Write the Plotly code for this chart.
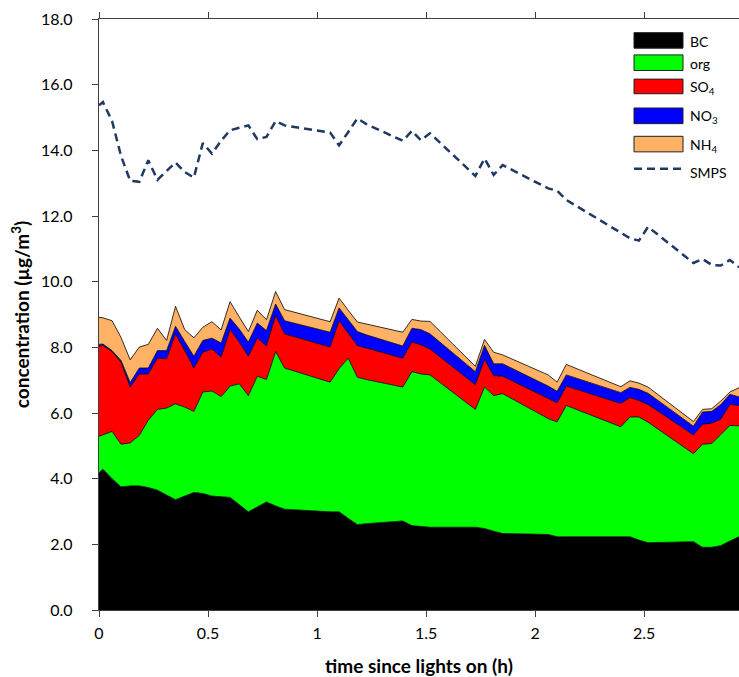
import plotly.graph_objects as go

# ---- data ----
time_h = [0.000, 0.018, 0.060, 0.101, 0.143, 0.185, 0.226, 0.268, 0.310, 0.351, 0.393, 0.435,
          0.476, 0.518, 0.560, 0.601, 0.643, 0.685, 0.726, 0.768, 0.810, 0.851, 1.060, 1.101,
          1.143, 1.185, 1.226, 1.393, 1.435, 1.476, 1.518, 1.726, 1.768, 1.810, 1.851, 2.060,
          2.101, 2.143, 2.393, 2.435, 2.476, 2.518, 2.726, 2.768, 2.810, 2.851, 2.893, 2.935]

bc = [4.18, 4.29, 4.00, 3.75, 3.78, 3.78, 3.73, 3.65, 3.50, 3.36, 3.47, 3.58,
      3.55, 3.47, 3.45, 3.43, 3.21, 2.99, 3.14, 3.29, 3.17, 3.07, 2.99, 2.99,
      2.79, 2.60, 2.63, 2.71, 2.57, 2.54, 2.52, 2.52, 2.48, 2.40, 2.33, 2.30,
      2.23, 2.23, 2.23, 2.23, 2.13, 2.05, 2.08, 1.91, 1.91, 1.96, 2.10, 2.23]

org = [1.11, 1.05, 1.44, 1.30, 1.31, 1.54, 2.05, 2.46, 2.65, 2.92, 2.71, 2.47,
       3.09, 3.20, 3.05, 3.39, 3.68, 3.54, 3.98, 3.73, 4.70, 4.30, 3.95, 4.36,
       4.88, 4.49, 4.39, 4.08, 4.69, 4.65, 4.64, 3.59, 4.31, 4.13, 4.26, 3.53,
       3.50, 4.00, 3.35, 3.65, 3.75, 3.67, 2.68, 3.14, 3.16, 3.38, 3.52, 3.38]

so4 = [2.74, 2.72, 2.43, 2.50, 1.70, 1.87, 1.41, 1.56, 1.50, 2.13, 1.72, 1.32,
       1.21, 1.28, 1.20, 1.72, 1.27, 1.20, 1.16, 1.02, 1.10, 1.04, 1.07, 1.46,
       0.76, 0.96, 0.96, 0.88, 0.90, 0.89, 0.79, 0.75, 0.84, 0.61, 0.53, 0.63,
       0.58, 0.59, 0.71, 0.59, 0.50, 0.54, 0.57, 0.61, 0.62, 0.47, 0.64, 0.62]

no3 = [0.06, 0.04, 0.03, 0.05, 0.14, 0.18, 0.18, 0.23, 0.25, 0.23, 0.28, 0.36,
       0.36, 0.33, 0.43, 0.35, 0.40, 0.43, 0.46, 0.47, 0.35, 0.40, 0.45, 0.39,
       0.41, 0.43, 0.40, 0.37, 0.42, 0.46, 0.46, 0.40, 0.43, 0.36, 0.38, 0.36,
       0.35, 0.34, 0.33, 0.31, 0.34, 0.34, 0.27, 0.37, 0.36, 0.44, 0.31, 0.26]

nh4 = [0.82, 0.80, 0.91, 0.70, 0.69, 0.64, 0.72, 0.68, 0.31, 0.61, 0.36, 0.56,
       0.40, 0.50, 0.40, 0.50, 0.37, 0.32, 0.39, 0.33, 0.38, 0.34, 0.32, 0.30,
       0.29, 0.29, 0.33, 0.42, 0.27, 0.26, 0.38, 0.16, 0.18, 0.35, 0.27, 0.34,
       0.28, 0.32, 0.18, 0.20, 0.19, 0.19, 0.14, 0.08, 0.08, 0.11, 0.07, 0.28]

smps = [15.37, 15.47, 14.89, 13.83, 13.07, 13.04, 13.70, 13.10, 13.37, 13.63, 13.34, 13.17,
        14.22, 13.90, 14.29, 14.61, 14.69, 14.76, 14.34, 14.41, 14.89, 14.76, 14.54, 14.15,
        14.56, 14.97, 14.80, 14.29, 14.59, 14.31, 14.52, 13.22, 13.75, 13.25, 13.55, 12.84,
        12.77, 12.49, 11.49, 11.32, 11.25, 11.67, 10.57, 10.69, 10.51, 10.49, 10.66, 10.44]

species = ["BC", "org", "SO<sub>4</sub>", "NO<sub>3</sub>", "NH<sub>4</sub>"]
series = [bc, org, so4, no3, nh4]
colors = ["#000000", "#00FF00", "#FF0000", "#0000FF", "#FFB266"]

x_ticks = [0, 0.5, 1, 1.5, 2, 2.5]
x_ticklabels = ["0", "0.5", "1", "1.5", "2", "2.5"]
y_ticks = [0, 2, 4, 6, 8, 10, 12, 14, 16, 18]

FONT = "Lato, Open Sans, sans-serif"
AX = "#404040"

fig = go.Figure()
for name, vals, col in zip(species, series, colors):
    fig.add_trace(go.Scatter(
        x=time_h, y=vals, name=name, mode="lines", stackgroup="one",
        line=dict(color="#000000", width=0.8), fillcolor=col, showlegend=False,
    ))
fig.add_trace(go.Scatter(
    x=time_h, y=smps, name="SMPS", mode="lines",
    line=dict(color="#1F3864", width=2.5, dash="8px,5px"), showlegend=False,
))

# ---- manual legend (pixel layout -> paper coords) ----
L, T, W, H = 99, 19, 640, 593
def pxx(p):
    return (p - L) / W
def pxy(p):
    return (T + H - p) / H

shapes = []
annotations = []
box_rows = [(32.7, 48.3, 41.5), (55.0, 70.7, 63.5), (79.3, 94.0, 88.0),
            (108.3, 124.0, 117.0), (136.7, 152.3, 145.5)]
for (y0, y1, yt), name, col in zip(box_rows, species, colors):
    shapes.append(dict(type="rect", xref="paper", yref="paper",
                       x0=pxx(634), x1=pxx(683), y0=pxy(y1), y1=pxy(y0),
                       fillcolor=col, line=dict(color="#202020", width=1), layer="above"))
    annotations.append(dict(xref="paper", yref="paper", x=pxx(688), y=pxy(yt),
                            text=name, showarrow=False, xanchor="left", yanchor="middle",
                            font=dict(family=FONT, size=14, color="#000000")))
shapes.append(dict(type="line", xref="paper", yref="paper",
                   x0=pxx(634), x1=pxx(683), y0=pxy(169.3), y1=pxy(169.3),
                   line=dict(color="#1F3864", width=2.5, dash="8px,5px"), layer="above"))
annotations.append(dict(xref="paper", yref="paper", x=pxx(688), y=pxy(173),
                        text="SMPS", showarrow=False, xanchor="left", yanchor="middle",
                        font=dict(family=FONT, size=14, color="#000000")))

fig.update_layout(
    width=739, height=677,
    margin=dict(l=L, r=0, t=T, b=677 - T - H),
    paper_bgcolor="white", plot_bgcolor="white",
    font=dict(family=FONT, size=16, color="#000000"),
    shapes=shapes, annotations=annotations,
    showlegend=False,
)
fig.update_xaxes(
    range=[0, 2.935], tickvals=x_ticks, ticktext=x_ticklabels,
    showgrid=False, zeroline=False,
    showline=True, linecolor=AX, linewidth=1.3, mirror="ticks",
    ticks="outside", ticklen=6, tickcolor=AX, tickwidth=1,
    tickfont=dict(family=FONT, size=16, color="#000000"),
    ticklabelstandoff=3,
    title=dict(text="<b>time since lights on (h)</b>", standoff=21,
               font=dict(family=FONT, size=19, color="#000000")),
)
fig.update_yaxes(
    range=[0, 18], tickvals=y_ticks, tickformat=".1f",
    showgrid=False, zeroline=False,
    showline=True, linecolor=AX, linewidth=1.3, mirror=False,
    ticks="outside", ticklen=6, tickcolor=AX, tickwidth=1,
    tickfont=dict(family=FONT, size=16, color="#000000"),
    ticklabelstandoff=16,
    title=dict(text="<b>concentration (µg/m<sup>3</sup>)</b>", standoff=6,
               font=dict(family=FONT, size=19, color="#000000")),
)

fig.write_html("out.html", config={"displayModeBar": False},
               post_script="document.body.style.margin='0';document.body.style.overflow='hidden';")
